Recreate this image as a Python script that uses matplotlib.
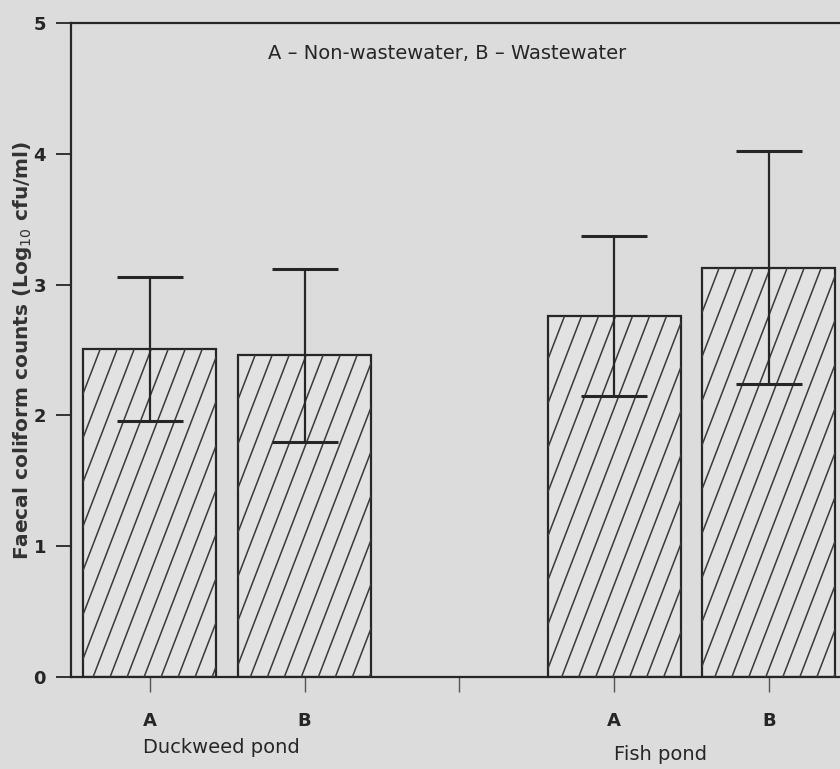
import matplotlib.pyplot as plt
import numpy as np
from matplotlib.collections import LineCollection

# values
positions = [0, 1, 3, 4]
tick_pos = [0, 1, 2, 3, 4]
tick_labels = ['A', 'B', '', 'A', 'B']
means = [2.51, 2.46, 2.76, 3.13]
errors = [0.55, 0.66, 0.61, 0.89]
groups = ['Duckweed pond', 'Fish pond']
group_x = [0.465, 3.3]
note = 'A – Non-wastewater, B – Wastewater'

bg = '#dcdcdc'
ink = '#262626'
narrow = ['Liberation Sans Narrow', 'DejaVu Sans']

fig = plt.figure(figsize=(8.4, 7.69), dpi=100, facecolor=bg)
ax = fig.add_axes([0.0845, 0.1196, 0.9155, 0.8505], facecolor=bg)

ax.set_xlim(-0.51, 4.46)
ax.set_ylim(0, 5)

bars = ax.bar(positions, means, width=0.86, color='#e2e2e2',
              edgecolor=ink, linewidth=1.6, zorder=2)

# steep hand-made hatching, clipped to each bar
p0 = ax.transData.transform((0, 0))
p1 = ax.transData.transform((1, 1))
sx, sy = p1[0] - p0[0], p1[1] - p0[1]
slope = 2.6          # pixel slope of the hatch lines
step = 17 / sx       # horizontal spacing in data units
for b in bars:
    x0, w, h = b.get_x(), b.get_width(), b.get_height()
    run = h * sy / (slope * sx)
    starts = np.arange(x0 - run, x0 + w, step)
    segs = [[(s, 0), (s + run, h)] for s in starts]
    lc = LineCollection(segs, colors='#3a3a3a', linewidths=1.1, zorder=3)
    ax.add_collection(lc)
    lc.set_clip_path(b)

ax.errorbar(positions, means, yerr=errors, fmt='none', ecolor=ink,
            elinewidth=1.6, capsize=24, capthick=2.2, zorder=4)

# axes styling
ax.spines['right'].set_visible(False)
for side in ['left', 'bottom', 'top']:
    ax.spines[side].set_color(ink)
    ax.spines[side].set_linewidth(1.6)

ax.set_yticks(range(6))
ax.set_xticks(tick_pos)
ax.set_xticklabels(tick_labels)
ax.tick_params(axis='y', direction='out', length=11, width=1.3, pad=7,
               colors=ink, labelsize=13)
ax.tick_params(axis='x', direction='out', length=11, width=1.0, pad=14,
               colors='#555555', labelcolor=ink, labelsize=13)
for lab in ax.get_xticklabels() + ax.get_yticklabels():
    lab.set_fontweight('bold')
    lab.set_family(narrow)

ax.set_ylabel('Faecal coliform counts (Log$_{10}$ cfu/ml)', fontsize=14.5,
              fontweight='bold', color='#333333')
ax.yaxis.set_label_coords(-0.048, 0.5)

ax.text(0.489, 0.954, note, transform=ax.transAxes, ha='center', va='center',
        fontsize=14, color=ink, family=narrow)

trans = ax.get_xaxis_transform()
ax.text(group_x[0], -0.107, groups[0], transform=trans, ha='center',
        va='center', fontsize=14, color=ink, family=narrow)
ax.text(group_x[1], -0.119, groups[1], transform=trans, ha='center',
        va='center', fontsize=14, color=ink, family=narrow)

fig.savefig('out.png', dpi=100, facecolor=bg)
